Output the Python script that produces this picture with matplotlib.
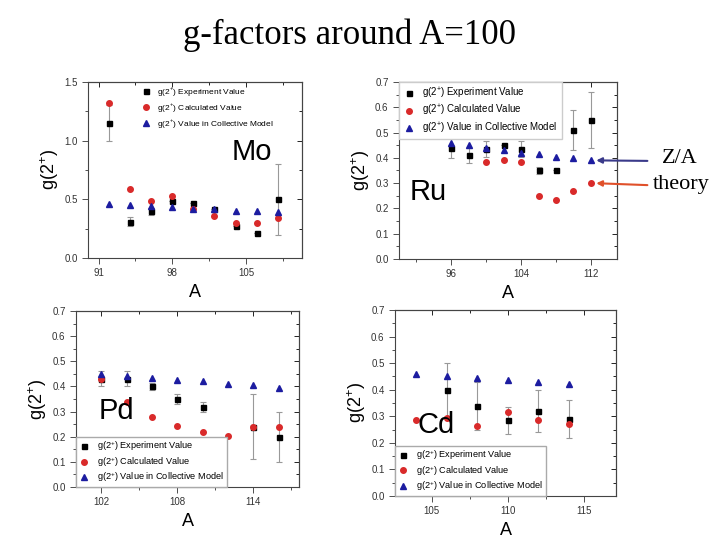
import numpy as np
import matplotlib
matplotlib.use("Agg")
from matplotlib import pyplot as plt
from matplotlib.ticker import MultipleLocator, AutoMinorLocator

plt.rcParams["font.family"] = ["Liberation Sans", "DejaVu Sans"]
plt.rcParams["mathtext.fontset"] = "custom"
plt.rcParams["mathtext.rm"] = "Liberation Sans"

# Mo
mo_A = [92, 94, 96, 98, 100, 102, 104, 106, 108]
mo_exp = [1.15, 0.31, 0.40, 0.485, 0.47, 0.42, 0.27, 0.21, 0.50]
mo_err = [0.15, 0.04, 0.03, 0.0, 0.0, 0.0, 0.0, 0.0, 0.30]
mo_calc = [1.32, 0.585, 0.49, 0.53, 0.42, 0.36, 0.30, 0.30, 0.34]
mo_coll = [0.46, 0.45, 0.44, 0.435, 0.42, 0.42, 0.40, 0.40, 0.39]

# Ru
ru_A = [96, 98, 100, 102, 104, 106, 108, 110, 112]
ru_exp = [0.44, 0.41, 0.435, 0.45, 0.435, 0.35, 0.35, 0.51, 0.55]
ru_err = [0.04, 0.03, 0.03, 0.0, 0.03, 0.015, 0.0, 0.08, 0.11]
ru_calc = [np.nan, 0.535, 0.385, 0.39, 0.385, 0.25, 0.235, 0.27, 0.30]
ru_coll = [0.46, 0.45, 0.44, 0.43, 0.42, 0.415, 0.405, 0.40, 0.39]

# Pd
pd_A = [102, 104, 106, 108, 110, 112, 114, 116]
pd_exp = [0.43, 0.43, 0.40, 0.35, 0.32, np.nan, 0.24, 0.20]
pd_err = [0.03, 0.03, 0.015, 0.02, 0.02, 0.0, 0.13, 0.10]
pd_calc = [0.43, 0.34, 0.277, 0.243, 0.217, 0.204, 0.24, 0.24]
pd_coll = [0.45, 0.44, 0.435, 0.425, 0.42, 0.41, 0.405, 0.395]

# Cd
cd_A = [104, 106, 108, 110, 112, 114]
cd_exp = [np.nan, 0.40, 0.34, 0.285, 0.32, 0.29]
cd_err = [0.0, 0.10, 0.09, 0.05, 0.08, 0.07]
cd_calc = [0.285, 0.295, 0.265, 0.315, 0.285, 0.27]
cd_coll = [0.46, 0.45, 0.445, 0.435, 0.43, 0.42]

labels = [r"g(2$^{+}$) Experiment Value", r"g(2$^{+}$) Calculated Value",
          r"g(2$^{+}$) Value in Collective Model"]
red = "#d92a2a"
blue = "#1c1ca0"

fig = plt.figure(figsize=(7.2, 5.4), dpi=100)


def panel(rect, A, exp, err, calc, coll, xlim, ylim, xmaj, ymaj, name, name_xy,
          leg_kw):
    ax = fig.add_axes(rect)
    ax.errorbar(A, exp, yerr=err, fmt="none", ecolor="#999999",
                elinewidth=0.8, capsize=2, capthick=0.8, zorder=2)
    h1, = ax.plot(A, exp, "s", color="black", ms=3.6, label=labels[0], zorder=3)
    h2, = ax.plot(A, calc, "o", color=red, ms=4, label=labels[1], zorder=3)
    h3, = ax.plot(A, coll, "^", color=blue, ms=4, label=labels[2], zorder=3)
    ax.set_xlim(xlim)
    ax.set_ylim(ylim)
    ax.xaxis.set_major_locator(MultipleLocator(xmaj))
    ax.yaxis.set_major_locator(MultipleLocator(ymaj))
    ax.xaxis.set_minor_locator(AutoMinorLocator(2))
    ax.yaxis.set_minor_locator(AutoMinorLocator(2))
    ax.tick_params(which="both", direction="out", labelsize=7, colors="#333333",
                   width=0.6)
    ax.tick_params(which="major", length=4)
    ax.tick_params(which="minor", length=2)
    # inward ticks on top and right
    top = ax.secondary_xaxis("top")
    top.xaxis.set_major_locator(MultipleLocator(xmaj))
    top.xaxis.set_minor_locator(AutoMinorLocator(2))
    top.tick_params(which="both", direction="in", labeltop=False, width=0.6)
    right = ax.secondary_yaxis("right")
    right.yaxis.set_major_locator(MultipleLocator(ymaj))
    right.yaxis.set_minor_locator(AutoMinorLocator(2))
    right.tick_params(which="both", direction="in", labelright=False, width=0.6)
    for sp in list(ax.spines.values()) + [top.spines["top"], right.spines["right"]]:
        sp.set_linewidth(0.8)
        sp.set_color("#444444")
    ax.set_xlabel("A", fontsize=13)
    ax.set_ylabel(r"g(2$^{+}$)", fontsize=13, labelpad=2)
    ax.text(name_xy[0], name_xy[1], name, transform=ax.transAxes, fontsize=21,
            ha="left", va="center")
    leg = ax.legend([h1, h2, h3], labels, handletextpad=0.8, borderaxespad=0,
                    handlelength=1.2, **leg_kw)
    leg.set_zorder(5)
    return ax


panel([0.1222, 0.5222, 0.2972, 0.3259], mo_A, mo_exp, mo_err, mo_calc, mo_coll,
      (90, 110.3), (0, 1.5), 7, 0.5, "Mo", (0.67, 0.6),
      dict(loc="upper left", bbox_to_anchor=(0.23, 1.0), frameon=False,
           fontsize=6, labelspacing=0.35))

ru = panel([0.5542, 0.5204, 0.3028, 0.3278], ru_A, ru_exp, ru_err, ru_calc, ru_coll,
           (90, 115), (0, 0.7), 8, 0.1, "Ru", (0.05, 0.38),
           dict(loc="upper left", bbox_to_anchor=(0.0, 1.0), frameon=True,
                fancybox=False, edgecolor="#cccccc", framealpha=1,
                fontsize=7, labelspacing=0.2))

panel([0.1056, 0.0981, 0.3097, 0.3259], pd_A, pd_exp, pd_err, pd_calc, pd_coll,
      (100, 117.6), (0, 0.7), 6, 0.1, "Pd", (0.1, 0.43),
      dict(loc="lower left", bbox_to_anchor=(0.0, 0.0), frameon=True,
           fancybox=False, edgecolor="#aaaaaa", framealpha=1,
           fontsize=6.6, labelspacing=0.2, borderpad=0.3))

panel([0.5486, 0.0815, 0.3069, 0.3444], cd_A, cd_exp, cd_err, cd_calc, cd_coll,
      (102.6, 117.1), (0, 0.7), 5, 0.1, "Cd", (0.1, 0.38),
      dict(loc="lower left", bbox_to_anchor=(0.0, 0.0), frameon=True,
           fancybox=False, edgecolor="#aaaaaa", framealpha=1,
           fontsize=6.6, labelspacing=0.2, borderpad=0.3))

fig.text(0.486, 0.935, "g-factors around A=100", fontsize=25,
         family="Liberation Serif", ha="center", va="center")

# Z/A and theory arrows pointing at the A=112 points of Ru
ru.annotate("", xy=(ru_A[-1] + 0.3, ru_coll[-1]), xytext=(0.903, 0.702),
            textcoords="figure fraction",
            arrowprops=dict(arrowstyle="-|>", color="#3a3a8a", lw=1.5,
                            mutation_scale=8), annotation_clip=False)
ru.annotate("", xy=(ru_A[-1] + 0.3, ru_calc[-1]), xytext=(0.903, 0.657),
            textcoords="figure fraction",
            arrowprops=dict(arrowstyle="-|>", color="#e0502a", lw=1.5,
                            mutation_scale=8), annotation_clip=False)
fig.text(0.944, 0.706, "Z/A", fontsize=16, family="Liberation Serif",
         ha="center", va="center")
fig.text(0.946, 0.659, "theory", fontsize=16, family="Liberation Serif",
         ha="center", va="center")

fig.savefig("out.png", dpi=100)
